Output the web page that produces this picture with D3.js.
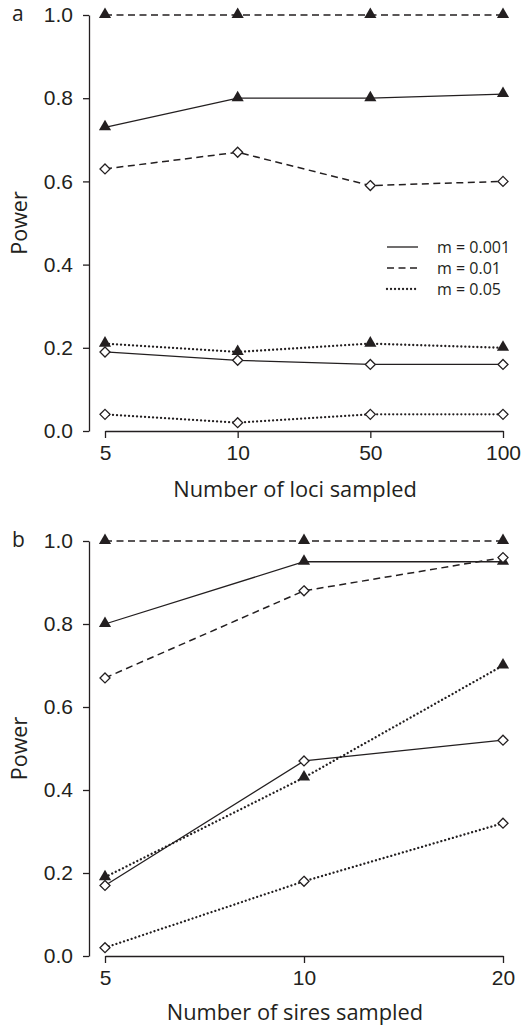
<!DOCTYPE html>
<html><head><meta charset="utf-8">
<script src="https://cdn.jsdelivr.net/npm/d3@7"></script>
<style>
html,body{margin:0;padding:0;background:#fff;}
svg{display:block;font-family:"Open Sans","Noto Sans",sans-serif;}
</style></head>
<body>
<svg id="chart" width="522" height="1026"></svg>
<script>
// ---- Data ----
const lociCategories = ["5", "10", "50", "100"];
const siresCategories = ["5", "10", "20"];
const yTicks = [0, 0.2, 0.4, 0.6, 0.8, 1.0];
const legendLabels = ["m = 0.001", "m = 0.01", "m = 0.05"];
const migrationRates = ["0.001", "0.01", "0.05"];

// Panel a: number of loci sampled
const lociTri001 = [0.73, 0.80, 0.80, 0.81];   // m = 0.001, triangles
const lociTri01  = [1.00, 1.00, 1.00, 1.00];   // m = 0.01, triangles
const lociTri05  = [0.21, 0.19, 0.21, 0.20];   // m = 0.05, triangles
const lociDia001 = [0.19, 0.17, 0.16, 0.16];   // m = 0.001, diamonds
const lociDia01  = [0.63, 0.67, 0.59, 0.60];   // m = 0.01, diamonds
const lociDia05  = [0.04, 0.02, 0.04, 0.04];   // m = 0.05, diamonds

// Panel b: number of sires sampled
const siresTri001 = [0.80, 0.95, 0.95];
const siresTri01  = [1.00, 1.00, 1.00];
const siresTri05  = [0.19, 0.43, 0.70];
const siresDia001 = [0.17, 0.47, 0.52];
const siresDia01  = [0.67, 0.88, 0.96];
const siresDia05  = [0.02, 0.18, 0.32];

const ink = "#231f20";
const styleFor = {
  "0.001": {dash: null, width: 1.3, cap: "butt"},
  "0.01":  {dash: "7,4.5", width: 1.5, cap: "butt"},
  "0.05":  {dash: "0.01,4", width: 2.3, cap: "round"}
};

const svg = d3.select("#chart");

function panel(cfg) {
  const x = d3.scalePoint().domain(cfg.categories).range([105, 503]);
  const y = d3.scaleLinear().domain([0, 1]).range(cfg.yRange);
  const g = svg.append("g");

  // axes
  const yAxis = d3.axisLeft(y).tickValues(yTicks).tickFormat(d3.format(".1f"))
    .tickSize(6).tickSizeOuter(0).tickPadding(10);
  const ya = g.append("g").attr("transform", "translate(89,0)").call(yAxis);
  const xAxis = d3.axisBottom(x).tickSize(7).tickSizeOuter(0).tickPadding(7);
  const xa = g.append("g").attr("transform", `translate(0,${y(0)})`).call(xAxis);
  [ya, xa].forEach(a => {
    a.selectAll("path,line").attr("stroke", ink).attr("stroke-width", 1.3);
    a.selectAll("text").attr("fill", ink).style("font-size", "21px");
  });

  // series
  const series = [
    {vals: cfg.tri01,  m: "0.01",  mk: "tri"},
    {vals: cfg.tri001, m: "0.001", mk: "tri"},
    {vals: cfg.dia01,  m: "0.01",  mk: "dia"},
    {vals: cfg.tri05,  m: "0.05",  mk: "tri"},
    {vals: cfg.dia001, m: "0.001", mk: "dia"},
    {vals: cfg.dia05,  m: "0.05",  mk: "dia"}
  ];
  const line = d3.line().x((d, i) => x(cfg.categories[i])).y(d => y(d));
  series.forEach(s => {
    const st = styleFor[s.m];
    g.append("path").attr("d", line(s.vals)).attr("fill", "none")
      .attr("stroke", ink).attr("stroke-width", st.width)
      .attr("stroke-dasharray", st.dash).attr("stroke-linecap", st.cap);
  });
  const tri = d3.symbol().type(d3.symbolTriangle).size(64);
  series.forEach(s => {
    s.vals.forEach((v, i) => {
      const cx = x(cfg.categories[i]), cy = y(v);
      if (s.mk === "tri") {
        g.append("path").attr("d", tri()).attr("transform", `translate(${cx},${cy - 0.5})`)
          .attr("fill", ink);
      } else {
        const r = 5;
        g.append("path").attr("d", `M${cx},${cy - r}L${cx + r},${cy}L${cx},${cy + r}L${cx - r},${cy}Z`)
          .attr("fill", "#fff").attr("stroke", ink).attr("stroke-width", 1.3);
      }
    });
  });

  // labels
  g.append("text").attr("x", 295).attr("y", cfg.xTitleY).attr("text-anchor", "middle")
    .attr("fill", ink).style("font-size", "21.8px").text(cfg.xTitle);
  const my = (y(0) + y(1)) / 2;
  g.append("text").attr("transform", `translate(27,${my}) rotate(-90)`)
    .attr("text-anchor", "middle").attr("fill", ink).style("font-size", "21.5px").text("Power");
  g.append("text").attr("x", 12).attr("y", y(1) + 6).attr("fill", ink)
    .style("font-size", "21px").text(cfg.letter);

  if (cfg.legend) {
    legendLabels.forEach((lab, i) => {
      const ly = 247 + i * 21;
      const st = styleFor[migrationRates[i]];
      g.append("line").attr("x1", 387).attr("x2", 418).attr("y1", ly).attr("y2", ly)
        .attr("stroke", ink).attr("stroke-width", st.width)
        .attr("stroke-dasharray", st.dash).attr("stroke-linecap", st.cap);
      g.append("text").attr("x", 437).attr("y", ly + 5.5).attr("fill", ink)
        .style("font-size", "16px").text(lab);
    });
  }
}

panel({
  categories: lociCategories, yRange: [431, 15],
  tri001: lociTri001, tri01: lociTri01, tri05: lociTri05,
  dia001: lociDia001, dia01: lociDia01, dia05: lociDia05,
  xTitle: "Number of loci sampled", xTitleY: 497, letter: "a", legend: true
});
panel({
  categories: siresCategories, yRange: [956, 541],
  tri001: siresTri001, tri01: siresTri01, tri05: siresTri05,
  dia001: siresDia001, dia01: siresDia01, dia05: siresDia05,
  xTitle: "Number of sires sampled", xTitleY: 1020, letter: "b", legend: false
});
</script>
</body></html>
